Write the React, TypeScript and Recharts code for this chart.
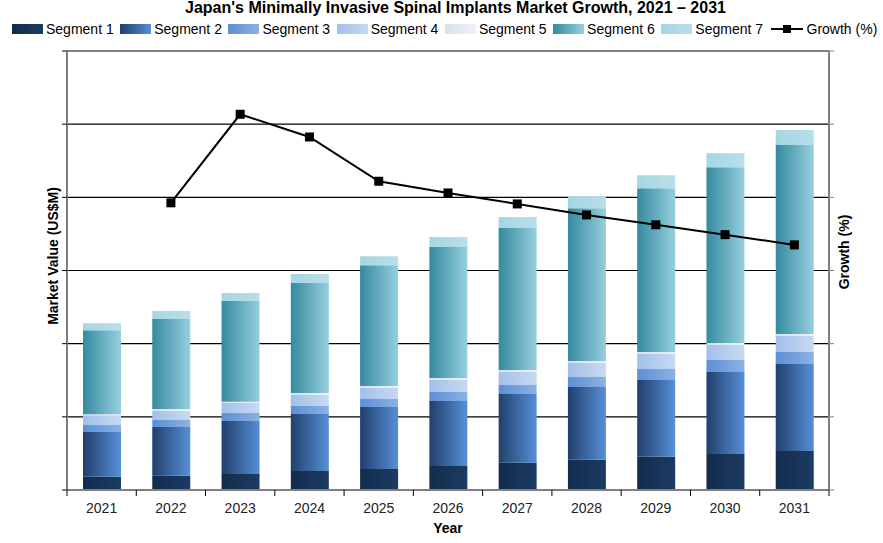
import { Bar, CartesianGrid, ComposedChart, Line, ReferenceLine, XAxis, YAxis } from "recharts";

const years = ["2021", "2022", "2023", "2024", "2025", "2026", "2027", "2028", "2029", "2030", "2031"];

// market value per segment, US$M
const segment1 = [18.2, 19.5, 21.9, 26.0, 28.7, 32.8, 37.3, 41.4, 45.5, 49.2, 53.3];
const segment2 = [61.1, 66.5, 72.4, 77.9, 84.7, 88.8, 93.9, 99.3, 104.8, 112.0, 118.9];
const segment3 = [9.6, 9.6, 10.9, 10.9, 10.9, 12.3, 12.3, 13.7, 15.0, 16.4, 16.4];
const segment4 = [13.3, 12.7, 14.1, 15.0, 15.4, 16.4, 17.8, 19.1, 20.5, 20.5, 21.9];
const segment5 = [1.4, 2.3, 1.4, 2.7, 2.3, 2.7, 2.7, 2.7, 2.7, 2.7, 2.7];
const segment6 = [114.8, 123.0, 137.6, 150.3, 165.3, 179.0, 194.0, 209.0, 224.0, 240.4, 258.2];
const segment7 = [9.6, 10.9, 10.9, 12.3, 12.3, 13.7, 15.0, 16.4, 17.8, 19.1, 20.5];
const growth: (number | null)[] = [null, 7.85, 10.27, 9.65, 8.44, 8.12, 7.82, 7.52, 7.25, 6.98, 6.7];

const valueTicks = [0, 100, 200, 300, 400, 500, 600];
const growthTicks = [0, 2, 4, 6, 8, 10, 12];

const segments = [
  { key: "s1", name: "Segment 1", values: segment1, from: "#132c4d", to: "#1c3b63" },
  { key: "s2", name: "Segment 2", values: segment2, from: "#213f6c", to: "#5690d6" },
  { key: "s3", name: "Segment 3", values: segment3, from: "#5c8fd6", to: "#8cb2e2" },
  { key: "s4", name: "Segment 4", values: segment4, from: "#a2bfea", to: "#c8daf2" },
  { key: "s5", name: "Segment 5", values: segment5, from: "#d8e0ec", to: "#eef1f6" },
  { key: "s6", name: "Segment 6", values: segment6, from: "#358a9f", to: "#96cfde" },
  { key: "s7", name: "Segment 7", values: segment7, from: "#a6d6e3", to: "#b8dfe9" },
];

const rows = years.map((year, i) => {
  const row: Record<string, string | number | null> = { year, growth: growth[i] };
  segments.forEach((s) => (row[s.key] = s.values[i]));
  return row;
});

const W = 883;
const H = 543;
const PLOT_L = 67;
const PLOT_R = 829;
const BAND = (PLOT_R - PLOT_L) / years.length;
const FONT = "'Liberation Sans', Arial, sans-serif";

function YearTick(props: any) {
  const { x, y, payload, index } = props;
  const last = index === years.length - 1;
  return (
    <g>
      <line x1={x - BAND / 2} x2={x - BAND / 2} y1={y} y2={y + 6} stroke="#000" />
      {last && <line x1={x + BAND / 2} x2={x + BAND / 2} y1={y} y2={y + 6} stroke="#000" />}
      <text x={x} y={y + 23} textAnchor="middle" fontSize={14} fontFamily={FONT} fill="#222">
        {payload.value}
      </text>
    </g>
  );
}

function SquareDot(props: any) {
  const { cx, cy, value } = props;
  if (value == null || cx == null || cy == null) return <g />;
  return <rect x={cx - 4.5} y={cy - 4.5} width={9} height={9} fill="#000" />;
}

function Swatch({ from, to }: { from: string; to: string }) {
  return (
    <span
      style={{
        display: "inline-block",
        width: 31,
        height: 10,
        marginRight: 3,
        background: `linear-gradient(to right, ${from}, ${to})`,
      }}
    />
  );
}

export default function App() {
  return (
    <div style={{ position: "absolute", left: 0, top: 0, width: W, height: H, background: "#fff", fontFamily: FONT }}>
      <div
        style={{
          position: "absolute",
          top: -1,
          left: 14,
          width: W,
          textAlign: "center",
          fontSize: 16,
          fontWeight: "bold",
          lineHeight: "18px",
        }}
      >
        Japan's Minimally Invasive Spinal Implants Market Growth, 2021 – 2031
      </div>

      <div
        style={{
          position: "absolute",
          top: 20,
          left: 12,
          display: "flex",
          alignItems: "center",
          fontSize: 14,
          lineHeight: "18px",
          whiteSpace: "nowrap",
        }}
      >
        {segments.map((s) => (
          <span key={s.key} style={{ display: "inline-flex", alignItems: "center", marginRight: 6.5 }}>
            <Swatch from={s.from} to={s.to} />
            {s.name}
          </span>
        ))}
        <span style={{ display: "inline-flex", alignItems: "center" }}>
          <svg width={34} height={12} style={{ marginRight: 3 }}>
            <line x1={1} x2={33} y1={6} y2={6} stroke="#000" strokeWidth={2} />
            <rect x={13} y={2} width={8} height={8} fill="#000" />
          </svg>
          Growth (%)
        </span>
      </div>

      <div
        style={{
          position: "absolute",
          left: 53,
          top: 256,
          transform: "translate(-50%, -50%) rotate(-90deg)",
          fontSize: 14,
          fontWeight: "bold",
          whiteSpace: "nowrap",
        }}
      >
        Market Value (US$M)
      </div>
      <div
        style={{
          position: "absolute",
          left: 844,
          top: 252,
          transform: "translate(-50%, -50%) rotate(-90deg)",
          fontSize: 14,
          fontWeight: "bold",
          whiteSpace: "nowrap",
        }}
      >
        Growth (%)
      </div>
      <div
        style={{
          position: "absolute",
          left: PLOT_L,
          width: PLOT_R - PLOT_L,
          top: 520,
          textAlign: "center",
          fontSize: 14,
          fontWeight: "bold",
        }}
      >
        Year
      </div>

      <div style={{ position: "absolute", left: 0, top: 0 }}>
        <ComposedChart
          width={W}
          height={H}
          data={rows}
          margin={{ top: 51, left: PLOT_L - 10, right: W - PLOT_R - 10, bottom: 13 }}
        >
          <defs>
            {segments.map((s) => (
              <linearGradient key={s.key} id={`g-${s.key}`} x1="0" y1="0" x2="1" y2="0">
                <stop offset="0%" stopColor={s.from} />
                <stop offset="100%" stopColor={s.to} />
              </linearGradient>
            ))}
          </defs>
          <CartesianGrid yAxisId="v" vertical={false} stroke="#000" strokeWidth={1.2} />
          <XAxis
            dataKey="year"
            height={40}
            axisLine={{ stroke: "#808080", strokeWidth: 2 }}
            tickLine={false}
            tickSize={0}
            tickMargin={0}
            interval={0}
            tick={<YearTick />}
          />
          <YAxis
            yAxisId="v"
            width={10}
            domain={[0, 600]}
            ticks={valueTicks}
            axisLine={{ stroke: "#808080", strokeWidth: 2 }}
            tickLine={{ stroke: "#000" }}
            tickSize={5}
            tickFormatter={() => ""}
          />
          <YAxis
            yAxisId="g"
            orientation="right"
            width={10}
            domain={[0, 12]}
            ticks={growthTicks}
            axisLine={{ stroke: "#808080", strokeWidth: 2 }}
            tickLine={{ stroke: "#808080" }}
            tickSize={5}
            tickFormatter={() => ""}
          />
          {segments.map((s) => (
            <Bar
              key={s.key}
              yAxisId="v"
              dataKey={s.key}
              name={s.name}
              stackId="m"
              barSize={38}
              fill={`url(#g-${s.key})`}
              isAnimationActive={false}
            />
          ))}
          <ReferenceLine yAxisId="v" y={600} stroke="#808080" strokeWidth={2} />
          <Line
            yAxisId="g"
            dataKey="growth"
            name="Growth (%)"
            stroke="#000"
            strokeWidth={2}
            dot={<SquareDot />}
            activeDot={false}
            connectNulls={false}
            isAnimationActive={false}
          />
        </ComposedChart>
      </div>
    </div>
  );
}
